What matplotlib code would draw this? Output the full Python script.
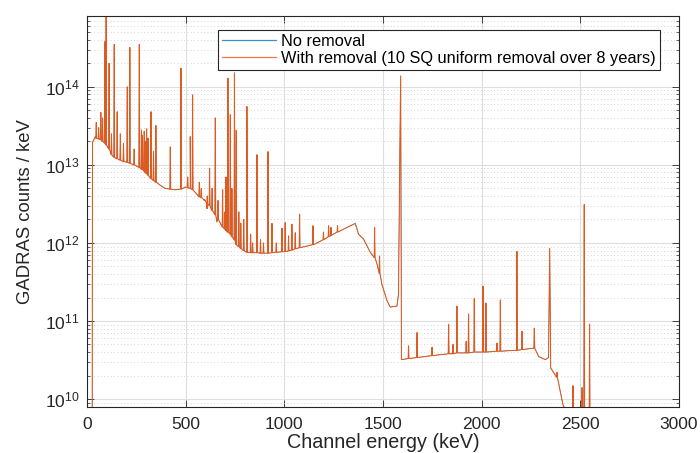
import numpy as np
import matplotlib

matplotlib.use("Agg")
import matplotlib.pyplot as plt
from matplotlib.ticker import LogLocator, NullFormatter

plt.rcParams["font.family"] = ["Liberation Sans", "DejaVu Sans"]
plt.rcParams["mathtext.fontset"] = "custom"
plt.rcParams["mathtext.rm"] = "Liberation Sans"

# continuum shape (keV, counts/keV)
cont_kev = [27, 29, 43, 93, 144, 195, 271, 321, 372, 397, 448, 499, 524, 558,
            609, 659, 710, 761, 811, 913, 1014, 1081, 1149, 1233, 1318, 1360,
            1377, 1402, 1436, 1470, 1495, 1521, 1537, 1571, 1579, 1585, 1590,
            1594, 1791, 1993, 2162, 2263, 2289, 2323, 2339, 2345, 2350, 2380,
            2412, 2440, 2480, 2600]
cont_counts = [1e9, 1.95e13, 2.3e13, 1.9e13, 1.23e13, 1.10e13, 9.1e12, 6.8e12,
               5.5e12, 5.0e12, 4.8e12, 5.2e12, 5.0e12, 4.2e12, 2.75e12, 1.86e12,
               1.38e12, 9.3e11, 7.6e11, 7.4e11, 7.8e11, 8.7e11, 9.5e11, 1.23e12,
               1.58e12, 1.78e12, 1.29e12, 1.12e12, 7.6e11, 5.4e11, 2.95e11,
               1.82e11, 1.51e11, 1.55e11, 2.2e11, 9.3e12, 1.38e14, 3.2e10,
               3.7e10, 4.0e10, 4.2e10, 4.5e10, 3.5e10, 3.2e10, 3.4e10, 8.5e11,
               2.5e10, 1.9e10, 8.5e9, 6e9, 5e9, 3e9]

# photopeaks: energy, top and local base
peak_kev = [48, 60, 71, 80, 92, 98, 113, 125, 139, 154, 170, 186, 205, 218,
            240, 266, 277, 282, 291, 297, 303, 310, 325, 338, 350, 423, 477,
            511, 524, 536, 570, 580, 595, 610, 622, 635, 651, 665, 688, 700,
            705, 715, 727, 735, 748, 757, 770, 780, 795, 811, 830, 840, 862,
            880, 895, 918, 938, 960, 989, 1005, 1022, 1039, 1056, 1078, 1146,
            1199, 1225, 1237, 1270, 1458, 1483, 1630, 1673, 1749, 1833, 1855,
            1875, 1922, 1934, 1963, 2007, 2022, 2078, 2095, 2179, 2205, 2267,
            2382, 2463, 2509, 2520, 2547]
peak_top = [3.5e13, 3.0e13, 4.7e13, 4.0e13, 3.8e14, 9e14, 2.0e14, 2.5e13,
            3.5e14, 4.8e13, 2.5e13, 1.9e13, 1.0e14, 3.2e14, 1.6e13, 3.5e14,
            2.8e13, 2.4e13, 2.7e13, 2.0e13, 2.9e13, 2.2e13, 4.8e13, 1.5e13,
            3.2e13, 1.7e13, 1.74e14, 7e12, 2.3e13, 7.9e13, 6e12, 5e12, 3.5e12,
            4e12, 9.1e12, 5e12, 4.0e13, 3.5e12, 4.8e12, 2.5e12, 7e12, 1.29e14,
            4.4e13, 5e12, 1.51e14, 2.8e13, 2.5e12, 1.8e12, 2.0e12, 5.6e13,
            1.3e12, 1.0e12, 1.35e13, 1.1e12, 1.0e12, 1.48e13, 1.78e12, 1.0e12,
            1.55e12, 1.82e12, 1.23e12, 1.74e12, 1.35e12, 2.34e12, 1.66e12,
            1.38e12, 1.66e12, 1.58e12, 1.66e12, 1.58e12, 6.8e11, 4.8e10,
            7.1e10, 4.6e10, 9.1e10, 5.0e10, 1.55e11, 5.5e10, 1.23e11, 1.95e11,
            2.8e11, 1.7e11, 5.2e10, 1.86e11, 7.8e11, 7.4e10, 8.1e10, 2.2e10,
            1.48e10, 1.4e10, 3.1e12, 9.1e10]
peak_base = [2.2e13, 2.15e13, 2.1e13, 2.0e13, 1.9e13, 1.8e13, 1.6e13, 1.35e13,
             1.25e13, 1.2e13, 1.15e13, 1.1e13, 1.08e13, 1.05e13, 1.0e13,
             9.3e12, 8.9e12, 8.7e12, 8.3e12, 8.0e12, 7.7e12, 7.4e12, 6.7e12,
             6.3e12, 6.0e12, 4.9e12, 4.9e12, 5.1e12, 5.0e12, 4.8e12, 3.9e12,
             3.8e12, 3.6e12, 3.2e12, 3.0e12, 2.6e12, 2.3e12, 2.0e12, 1.6e12,
             1.5e12, 1.45e12, 1.38e12, 1.3e12, 1.2e12, 1.1e12, 9.6e11, 9e11,
             8.5e11, 8e11, 7.6e11, 7.5e11, 7.5e11, 7.5e11, 7.4e11, 7.4e11,
             7.4e11, 7.5e11, 7.6e11, 7.7e11, 7.8e11, 7.9e11, 8.1e11, 8.4e11,
             8.7e11, 9.5e11, 1.1e12, 1.2e12, 1.25e12, 1.38e12, 6.5e11, 4.1e11,
             3.3e10, 3.4e10, 3.6e10, 3.8e10, 3.8e10, 3.9e10, 3.9e10, 3.9e10,
             4.0e10, 4.0e10, 4.0e10, 4.1e10, 4.1e10, 4.2e10, 4.3e10, 4.5e10,
             1.9e10, 6e9, 6e9, 6e9, 6e9]

xticks = [0, 500, 1000, 1500, 2000, 2500, 3000]


def build_spectrum(kev, counts, pk, top, base, half_width=2):
    pts = list(zip(kev, counts))
    for e, t, b in zip(pk, top, base):
        pts += [(e - half_width, b), (e, t), (e + half_width, b)]
    pts.sort(key=lambda p: p[0])
    arr = np.array(pts, dtype=float)
    return arr[:, 0], arr[:, 1]


energy, with_removal = build_spectrum(cont_kev, cont_counts, peak_kev, peak_top, peak_base)
no_removal = with_removal.copy()

fig = plt.figure(figsize=(7.0, 4.53), dpi=100)
ax = fig.add_axes([0.124, 0.1015, 0.846, 0.8632])

ax.plot(energy, no_removal, color="#0072BD", lw=0.3, label="No removal")
ax.plot(energy, with_removal, color="#DE5A1E", lw=0.75,
        label="With removal (10 SQ uniform removal over 8 years)")

ax.set_yscale("log")
ax.set_xlim(0, 3000)
ax.set_ylim(7.9e9, 8.1e14)
ax.set_xticks(xticks)
ax.yaxis.set_major_locator(LogLocator(base=10, numticks=10))
ax.yaxis.set_minor_locator(LogLocator(base=10, subs=np.arange(2, 10), numticks=20))
ax.yaxis.set_minor_formatter(NullFormatter())

ax.grid(True, which="major", color="#dedede", lw=0.8, ls="-")
ax.grid(True, which="minor", axis="y", color="#c8c8c8", lw=0.6, ls=(0, (1, 3)))
ax.set_axisbelow(True)

ax.tick_params(which="both", direction="in", top=True, right=True,
               colors="#262626", labelsize=12.5)
ax.tick_params(which="major", length=5, width=0.6)
ax.tick_params(which="minor", length=2.5, width=0.5)
ax.tick_params(axis="x", pad=7)
ax.tick_params(axis="y", pad=5)
for s in ax.spines.values():
    s.set_color("#262626")
    s.set_linewidth(0.8)

ax.set_xlabel("Channel energy (keV)", fontsize=14.2, color="#262626", labelpad=1)
ax.set_ylabel("GADRAS counts / keV", fontsize=13.3, color="#262626", labelpad=8)

leg = ax.legend(loc="upper right", bbox_to_anchor=(0.968, 0.964), fontsize=11.8,
                handlelength=3.3, fancybox=False, framealpha=1,
                edgecolor="#262626", borderaxespad=0, borderpad=0.25,
                labelspacing=0.12, handletextpad=0.3)
leg.get_frame().set_linewidth(0.8)
leg.get_lines()[0].set_color("#3d8fd0")
leg.get_lines()[1].set_color("#ec7a45")
for h in leg.get_lines():
    h.set_linewidth(0.9)

fig.savefig("out.png", dpi=100)
